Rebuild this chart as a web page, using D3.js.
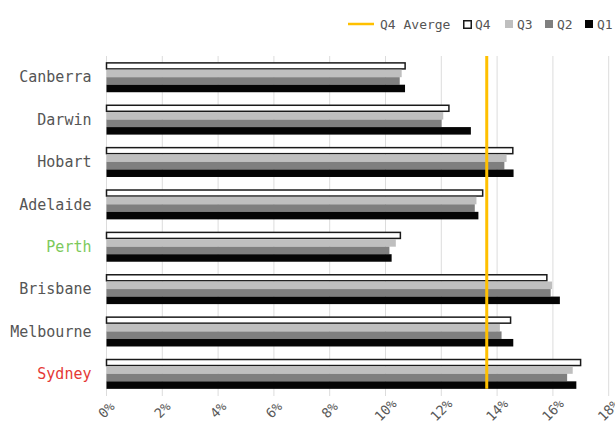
<!DOCTYPE html>
<html>
<head>
<meta charset="utf-8">
<script src="https://cdn.jsdelivr.net/npm/d3@7/dist/d3.min.js"></script>
<style>
  html, body { margin: 0; padding: 0; background: #fff; }
  svg { display: block; }
  text { font-family: "DejaVu Sans Mono", "Liberation Mono", monospace; }
</style>
</head>
<body>
<svg id="chart" width="615" height="425"></svg>
<script>
// Cities, top to bottom
const cities = ["Canberra", "Darwin", "Hobart", "Adelaide", "Perth", "Brisbane", "Melbourne", "Sydney"];
// Quarterly rates (%) per city
const q4 = [10.73, 12.30, 14.59, 13.51, 10.56, 15.81, 14.51, 17.02];
const q3 = [10.58, 12.07, 14.34, 13.26, 10.37, 15.97, 14.10, 16.71];
const q2 = [10.51, 12.01, 14.26, 13.20, 10.14, 15.92, 14.16, 16.51];
const q1 = [10.70, 13.06, 14.59, 13.33, 10.22, 16.25, 14.58, 16.84];
const seriesNames = ["Q4", "Q3", "Q2", "Q1"];
const xTicks = [0, 2, 4, 6, 8, 10, 12, 14, 16, 18];
const labelColors = { Perth: "#7cc95b", Sydney: "#e53935" };

const series = [
  { name: "Q4", values: q4, fill: "#ffffff", stroke: "#1a1a1a" },
  { name: "Q3", values: q3, fill: "#bfbfbf", stroke: "none" },
  { name: "Q2", values: q2, fill: "#7f7f7f", stroke: "none" },
  { name: "Q1", values: q1, fill: "#050505", stroke: "none" }
];
const q4Average = d3.mean(q4);

const svg = d3.select("#chart");
const plotLeft = 106.5, plotRight = 608.7, plotTop = 56, plotBottom = 395;

const x = d3.scaleLinear().domain([0, 18]).range([plotLeft, plotRight]);
const y = d3.scaleBand().domain(cities).range([plotTop, plotBottom])
  .paddingInner(0.29).paddingOuter(0.145);
const ySub = d3.scaleBand().domain(seriesNames).range([0, y.bandwidth()]);

// Vertical grid lines
svg.append("g").selectAll("line").data(xTicks).join("line")
  .attr("x1", d => x(d)).attr("x2", d => x(d))
  .attr("y1", plotTop).attr("y2", plotBottom + 1)
  .attr("stroke", "#dcdcdc").attr("stroke-width", 1);

// Bars
const groups = svg.append("g").selectAll("g").data(cities).join("g")
  .attr("transform", d => `translate(0,${y(d)})`);
groups.each(function (city, i) {
  const g = d3.select(this);
  series.forEach(s => {
    const isOutlined = s.stroke !== "none";
    const inset = isOutlined ? 0.75 : 0;
    g.append("rect")
      .attr("x", x(0))
      .attr("y", ySub(s.name) + inset)
      .attr("width", x(s.values[i]) - x(0) - inset)
      .attr("height", ySub.bandwidth() - inset * 2)
      .attr("fill", s.fill)
      .attr("stroke", s.stroke)
      .attr("stroke-width", isOutlined ? 1.5 : 0);
  });
});

// Q4 average line
svg.append("line")
  .attr("x1", x(q4Average)).attr("x2", x(q4Average))
  .attr("y1", plotTop).attr("y2", y(cities[cities.length - 1]) + y.bandwidth())
  .attr("stroke", "#ffc000").attr("stroke-width", 3);

// City labels
svg.append("g").selectAll("text").data(cities).join("text")
  .attr("x", plotLeft - 15)
  .attr("y", d => y(d) + y.bandwidth() / 2)
  .attr("dy", "0.35em")
  .attr("text-anchor", "end")
  .attr("font-size", 15)
  .attr("fill", d => labelColors[d] || "#555555")
  .text(d => d);

// X tick labels, rotated
svg.append("g").selectAll("text").data(xTicks).join("text")
  .attr("transform", d => `translate(${x(d)},${410}) rotate(-45)`)
  .attr("text-anchor", "middle")
  .attr("dy", "0.35em")
  .attr("font-size", 13.5)
  .attr("fill", "#595959")
  .text(d => d + "%");

// Legend
const legend = svg.append("g").attr("font-size", 13).attr("fill", "#555555");
const ly = 24;
legend.append("line")
  .attr("x1", 348).attr("x2", 374).attr("y1", ly).attr("y2", ly)
  .attr("stroke", "#ffc000").attr("stroke-width", 2.5);
legend.append("text").attr("x", 380).attr("y", ly).attr("dy", "0.35em").attr("fill", "#555").text("Q4 Averge");

const legendItems = [
  { name: "Q4", box: 463, fill: "#ffffff", stroke: "#1a1a1a" },
  { name: "Q3", box: 505, fill: "#bfbfbf", stroke: "none" },
  { name: "Q2", box: 545, fill: "#7f7f7f", stroke: "none" },
  { name: "Q1", box: 585, fill: "#050505", stroke: "none" }
];
legendItems.forEach(item => {
  const outlined = item.stroke !== "none";
  legend.append("rect")
    .attr("x", item.box + (outlined ? 0.75 : 0))
    .attr("y", ly - 4 + (outlined ? 0.75 : 0))
    .attr("width", outlined ? 7.5 : 8)
    .attr("height", outlined ? 7.5 : 8)
    .attr("fill", item.fill)
    .attr("stroke", item.stroke)
    .attr("stroke-width", outlined ? 1.5 : 0);
  legend.append("text")
    .attr("x", item.box + 12).attr("y", ly).attr("dy", "0.35em")
    .attr("fill", "#555")
    .text(item.name);
});
</script>
</body>
</html>
